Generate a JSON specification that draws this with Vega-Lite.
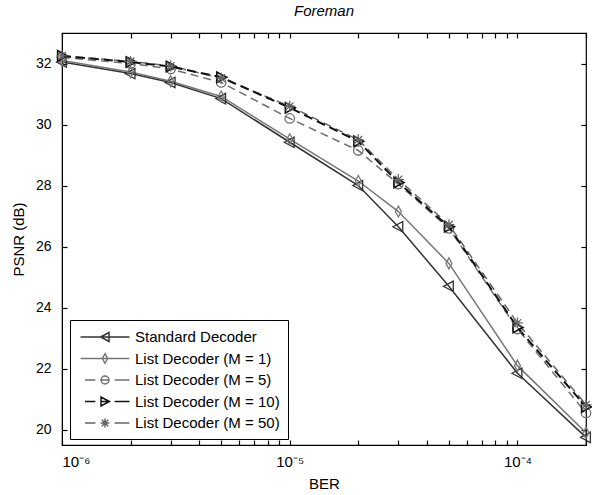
{
  "$schema": "https://vega.github.io/schema/vega-lite/v6.json",
  "width": 524,
  "height": 412,
  "autosize": {"type": "none"},
  "padding": {"left": 62, "top": 33, "right": 6, "bottom": 50},
  "background": "white",
  "title": {"text": "Foreman", "fontSize": 15, "fontStyle": "italic", "fontWeight": "normal", "font": "Liberation Sans", "color": "#000", "anchor": "middle", "offset": 13},
  "config": {
    "view": {"stroke": "#000", "strokeWidth": 1.2},
    "axis": {"labelFont": "Liberation Sans", "titleFont": "Liberation Sans", "labelColor": "#000", "titleColor": "#000", "labelFontSize": 14, "titleFontSize": 15, "titleFontWeight": "normal", "domainColor": "#000", "tickColor": "#000", "grid": false, "tickSize": -5, "tickWidth": 1.2},
    "legend": {"labelFont": "Liberation Sans", "labelFontSize": 15, "labelColor": "#000"}
  },
  "data": {"values": [
    {"series": "Standard Decoder", "ber": 1e-6, "psnr": 32.05},
    {"series": "Standard Decoder", "ber": 2e-6, "psnr": 31.67},
    {"series": "Standard Decoder", "ber": 3e-6, "psnr": 31.38},
    {"series": "Standard Decoder", "ber": 5e-6, "psnr": 30.85},
    {"series": "Standard Decoder", "ber": 1e-5, "psnr": 29.42},
    {"series": "Standard Decoder", "ber": 2e-5, "psnr": 28.0},
    {"series": "Standard Decoder", "ber": 3e-5, "psnr": 26.65},
    {"series": "Standard Decoder", "ber": 5e-5, "psnr": 24.7},
    {"series": "Standard Decoder", "ber": 1e-4, "psnr": 21.85},
    {"series": "Standard Decoder", "ber": 2e-4, "psnr": 19.75},
    {"series": "List Decoder (M = 1)", "ber": 1e-6, "psnr": 32.1},
    {"series": "List Decoder (M = 1)", "ber": 2e-6, "psnr": 31.72},
    {"series": "List Decoder (M = 1)", "ber": 3e-6, "psnr": 31.42},
    {"series": "List Decoder (M = 1)", "ber": 5e-6, "psnr": 30.92},
    {"series": "List Decoder (M = 1)", "ber": 1e-5, "psnr": 29.52},
    {"series": "List Decoder (M = 1)", "ber": 2e-5, "psnr": 28.15},
    {"series": "List Decoder (M = 1)", "ber": 3e-5, "psnr": 27.15},
    {"series": "List Decoder (M = 1)", "ber": 5e-5, "psnr": 25.45},
    {"series": "List Decoder (M = 1)", "ber": 1e-4, "psnr": 22.1},
    {"series": "List Decoder (M = 1)", "ber": 2e-4, "psnr": 19.9},
    {"series": "List Decoder (M = 5)", "ber": 1e-6, "psnr": 32.2},
    {"series": "List Decoder (M = 5)", "ber": 2e-6, "psnr": 32.0},
    {"series": "List Decoder (M = 5)", "ber": 3e-6, "psnr": 31.82},
    {"series": "List Decoder (M = 5)", "ber": 5e-6, "psnr": 31.38},
    {"series": "List Decoder (M = 5)", "ber": 1e-5, "psnr": 30.2},
    {"series": "List Decoder (M = 5)", "ber": 2e-5, "psnr": 29.15},
    {"series": "List Decoder (M = 5)", "ber": 3e-5, "psnr": 28.05},
    {"series": "List Decoder (M = 5)", "ber": 5e-5, "psnr": 26.6},
    {"series": "List Decoder (M = 5)", "ber": 1e-4, "psnr": 23.3},
    {"series": "List Decoder (M = 5)", "ber": 2e-4, "psnr": 20.55},
    {"series": "List Decoder (M = 10)", "ber": 1e-6, "psnr": 32.25},
    {"series": "List Decoder (M = 10)", "ber": 2e-6, "psnr": 32.05},
    {"series": "List Decoder (M = 10)", "ber": 3e-6, "psnr": 31.9},
    {"series": "List Decoder (M = 10)", "ber": 5e-6, "psnr": 31.55},
    {"series": "List Decoder (M = 10)", "ber": 1e-5, "psnr": 30.55},
    {"series": "List Decoder (M = 10)", "ber": 2e-5, "psnr": 29.45},
    {"series": "List Decoder (M = 10)", "ber": 3e-5, "psnr": 28.1},
    {"series": "List Decoder (M = 10)", "ber": 5e-5, "psnr": 26.65},
    {"series": "List Decoder (M = 10)", "ber": 1e-4, "psnr": 23.35},
    {"series": "List Decoder (M = 10)", "ber": 2e-4, "psnr": 20.75},
    {"series": "List Decoder (M = 50)", "ber": 1e-6, "psnr": 32.25},
    {"series": "List Decoder (M = 50)", "ber": 2e-6, "psnr": 32.07},
    {"series": "List Decoder (M = 50)", "ber": 3e-6, "psnr": 31.92},
    {"series": "List Decoder (M = 50)", "ber": 5e-6, "psnr": 31.52},
    {"series": "List Decoder (M = 50)", "ber": 1e-5, "psnr": 30.6},
    {"series": "List Decoder (M = 50)", "ber": 2e-5, "psnr": 29.5},
    {"series": "List Decoder (M = 50)", "ber": 3e-5, "psnr": 28.2},
    {"series": "List Decoder (M = 50)", "ber": 5e-5, "psnr": 26.72},
    {"series": "List Decoder (M = 50)", "ber": 1e-4, "psnr": 23.5},
    {"series": "List Decoder (M = 50)", "ber": 2e-4, "psnr": 20.82}
  ]},
  "resolve": {"axis": {"x": "independent", "y": "independent"}},
  "layer": [
    {
      "transform": [{"filter": {"field": "series", "oneOf": ["Standard Decoder", "List Decoder (M = 1)"]}}],
      "mark": {"type": "line", "strokeWidth": 1.5, "clip": false},
      "encoding": {
        "x": {"field": "ber", "type": "quantitative", "scale": {"type": "log", "domain": [1e-6, 2e-4], "nice": false},
          "axis": {"orient": "bottom", "title": "BER", "titlePadding": 7, "values": [1e-6, 2e-6, 3e-6, 4e-6, 5e-6, 6e-6, 7e-6, 8e-6, 9e-6, 1e-5, 2e-5, 3e-5, 4e-5, 5e-5, 6e-5, 7e-5, 8e-5, 9e-5, 1e-4, 2e-4],
            "labelExpr": "datum.value < 1.05e-6 ? '10⁻⁶' : (abs(datum.value - 1e-5) < 1e-8 ? '10⁻⁵' : (abs(datum.value - 1e-4) < 1e-7 ? '10⁻⁴' : ''))",
            "labelOverlap": false, "labelPadding": 14, "labelFontSize": 15}},
        "y": {"field": "psnr", "type": "quantitative", "scale": {"domain": [19.5, 33], "nice": false, "zero": false},
          "axis": {"orient": "left", "title": "PSNR (dB)", "values": [20, 22, 24, 26, 28, 30, 32], "labelPadding": 16, "titlePadding": 9}},
        "color": {"field": "series", "type": "nominal",
          "scale": {"domain": ["Standard Decoder", "List Decoder (M = 1)", "List Decoder (M = 5)", "List Decoder (M = 10)", "List Decoder (M = 50)"],
                    "range": ["#333333", "#777777", "#6e6e6e", "#111111", "#666666"]},
          "legend": {"orient": "none", "legendX": 8, "legendY": 287, "title": null, "strokeColor": "#000", "fillColor": "#fff", "padding": 8, "symbolSize": 256, "symbolOffset": 18, "labelOffset": 21, "rowPadding": 4.5, "symbolStrokeWidth": 1.5, "symbolFillColor": "transparent",
            "symbolType": {"expr": "datum.value === 'Standard Decoder' ? 'M-3.06,0H3.06M-0.55,0L0.5,-0.55L0.5,0.55Z' : datum.value === 'List Decoder (M = 1)' ? 'M-3.06,0H3.06M0,-0.6L0.33,0L0,0.6L-0.33,0Z' : datum.value === 'List Decoder (M = 5)' ? 'M-2.5,0H-1.2M-0.5,0H0.5M1.2,0H3.06M-0.5,0A0.5,0.5 0 1,0 0.5,0A0.5,0.5 0 1,0 -0.5,0Z' : datum.value === 'List Decoder (M = 10)' ? 'M-2.5,0H-1.2M-0.5,0H0.5M1.2,0H3.06M0.55,0L-0.5,-0.55L-0.5,0.55Z' : 'M-2.5,0H-1.2M1.2,0H3.06M-0.55,0H0.55M0,-0.55V0.55M-0.4,-0.4L0.4,0.4M-0.4,0.4L0.4,-0.4'"}}}
      }
    },
    {
      "transform": [{"filter": {"field": "series", "oneOf": ["List Decoder (M = 5)", "List Decoder (M = 50)"]}}],
      "mark": {"type": "line", "strokeWidth": 1.5, "strokeDash": [8, 5], "clip": false},
      "encoding": {
        "x": {"field": "ber", "type": "quantitative", "axis": null},
        "y": {"field": "psnr", "type": "quantitative", "axis": null},
        "color": {"field": "series", "type": "nominal", "legend": null}
      }
    },
    {
      "transform": [{"filter": {"field": "series", "equal": "List Decoder (M = 10)"}}],
      "mark": {"type": "line", "strokeWidth": 2, "strokeDash": [9, 5], "clip": false},
      "encoding": {
        "x": {"field": "ber", "type": "quantitative", "axis": null},
        "y": {"field": "psnr", "type": "quantitative", "axis": null},
        "color": {"field": "series", "type": "nominal", "legend": null}
      }
    },
    {
      "transform": [{"filter": {"field": "series", "equal": "Standard Decoder"}}],
      "mark": {"type": "point", "filled": false, "strokeWidth": 1.3, "size": 120, "opacity": 1, "clip": false, "shape": "M-1,0L0.8,-0.95L0.8,0.95Z"},
      "encoding": {
        "x": {"field": "ber", "type": "quantitative", "axis": null},
        "y": {"field": "psnr", "type": "quantitative", "axis": null},
        "color": {"field": "series", "type": "nominal", "legend": null}
      }
    },
    {
      "transform": [{"filter": {"field": "series", "equal": "List Decoder (M = 1)"}}],
      "mark": {"type": "point", "filled": false, "strokeWidth": 1.3, "size": 120, "opacity": 1, "clip": false, "shape": "M0,-1L0.55,0L0,1L-0.55,0Z"},
      "encoding": {
        "x": {"field": "ber", "type": "quantitative", "axis": null},
        "y": {"field": "psnr", "type": "quantitative", "axis": null},
        "color": {"field": "series", "type": "nominal", "legend": null}
      }
    },
    {
      "transform": [{"filter": {"field": "series", "equal": "List Decoder (M = 5)"}}],
      "mark": {"type": "point", "filled": false, "strokeWidth": 1.3, "size": 90, "opacity": 1, "clip": false, "shape": "circle"},
      "encoding": {
        "x": {"field": "ber", "type": "quantitative", "axis": null},
        "y": {"field": "psnr", "type": "quantitative", "axis": null},
        "color": {"field": "series", "type": "nominal", "legend": null}
      }
    },
    {
      "transform": [{"filter": {"field": "series", "equal": "List Decoder (M = 10)"}}],
      "mark": {"type": "point", "filled": false, "strokeWidth": 1.6, "size": 120, "opacity": 1, "clip": false, "shape": "M1,0L-0.8,-0.95L-0.8,0.95Z"},
      "encoding": {
        "x": {"field": "ber", "type": "quantitative", "axis": null},
        "y": {"field": "psnr", "type": "quantitative", "axis": null},
        "color": {"field": "series", "type": "nominal", "legend": null}
      }
    },
    {
      "transform": [{"filter": {"field": "series", "equal": "List Decoder (M = 50)"}}],
      "mark": {"type": "point", "filled": false, "strokeWidth": 1.3, "size": 120, "opacity": 1, "clip": false, "shape": "M-1,0H1M0,-1V1M-0.7,-0.7L0.7,0.7M-0.7,0.7L0.7,-0.7"},
      "encoding": {
        "x": {"field": "ber", "type": "quantitative", "axis": null},
        "y": {"field": "psnr", "type": "quantitative", "axis": null},
        "color": {"field": "series", "type": "nominal", "legend": null}
      }
    },
    {
      "mark": {"type": "point", "opacity": 0},
      "encoding": {
        "x": {"field": "ber", "type": "quantitative",
          "axis": {"orient": "top", "title": null, "labels": false, "domain": false, "values": [1e-6, 2e-6, 3e-6, 4e-6, 5e-6, 6e-6, 7e-6, 8e-6, 9e-6, 1e-5, 2e-5, 3e-5, 4e-5, 5e-5, 6e-5, 7e-5, 8e-5, 9e-5, 1e-4, 2e-4]}},
        "y": {"field": "psnr", "type": "quantitative",
          "axis": {"orient": "right", "title": null, "labels": false, "domain": false, "values": [20, 22, 24, 26, 28, 30, 32]}}
      }
    }
  ]
}
